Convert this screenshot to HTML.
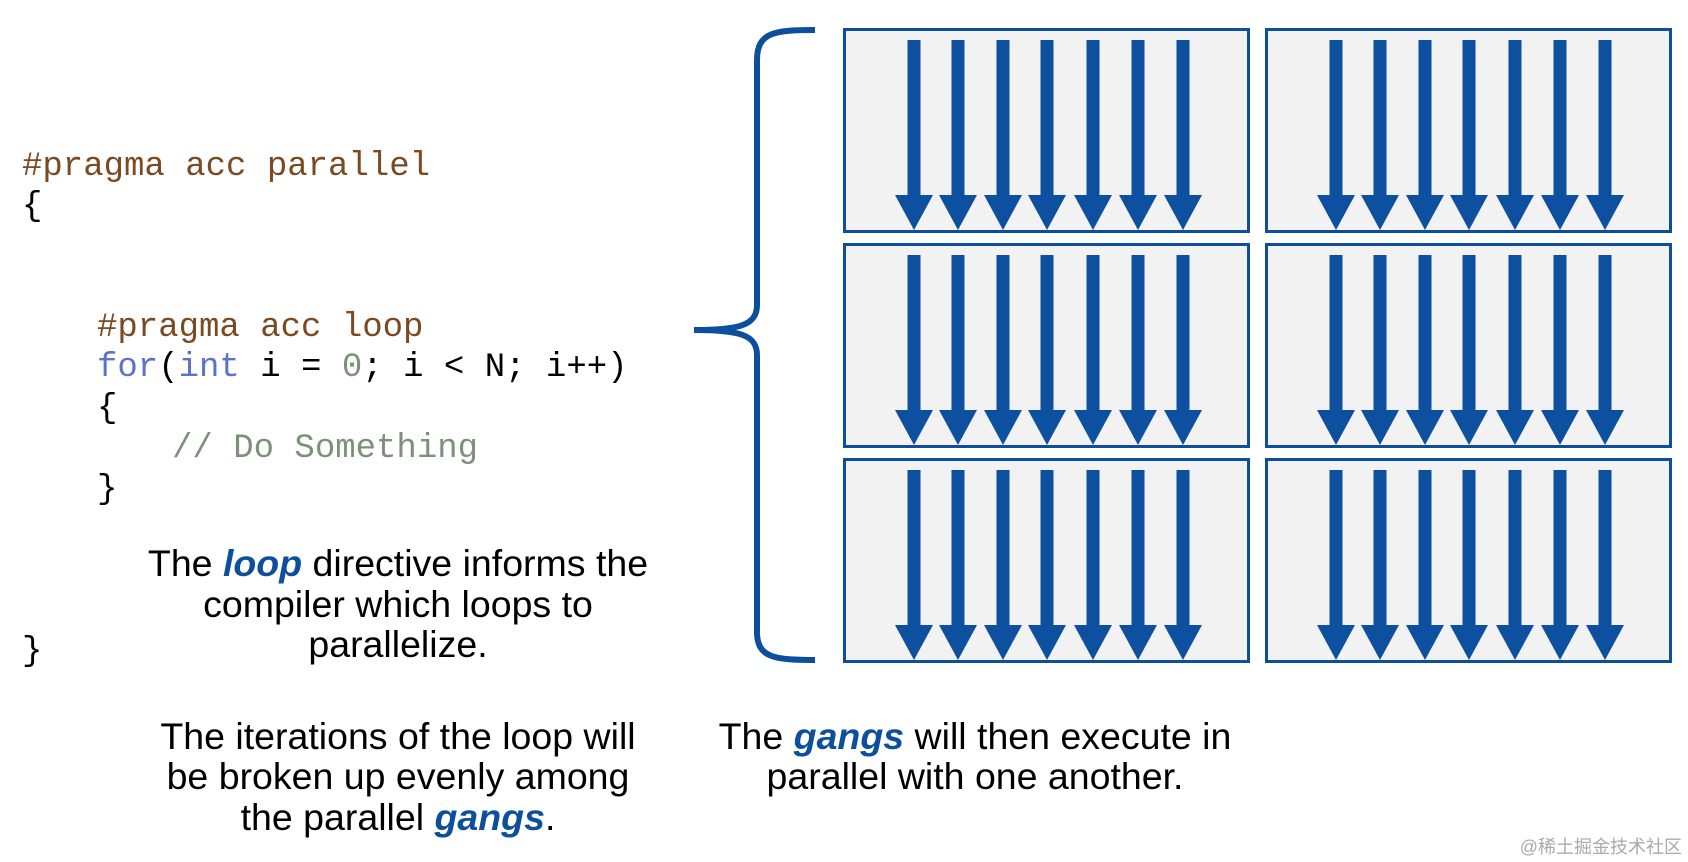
<!DOCTYPE html>
<html><head><meta charset="utf-8"><style>
html,body{margin:0;padding:0;background:#fff;}
svg{display:block}
</style></head><body>
<svg width="1688" height="862" viewBox="0 0 1688 862" xmlns="http://www.w3.org/2000/svg">
<defs>
<g id="cell">
<rect x="1.5" y="1.5" width="404" height="202" fill="#f2f2f2" stroke="#0d4f9c" stroke-width="3"/>
<g fill="#0d50a0">
<rect x="64.5" y="12" width="13" height="160"/><polygon points="52,167 90,167 71,202"/>
<rect x="108.5" y="12" width="13" height="160"/><polygon points="96,167 134,167 115,202"/>
<rect x="153.5" y="12" width="13" height="160"/><polygon points="141,167 179,167 160,202"/>
<rect x="197.5" y="12" width="13" height="160"/><polygon points="185,167 223,167 204,202"/>
<rect x="243.5" y="12" width="13" height="160"/><polygon points="231,167 269,167 250,202"/>
<rect x="288.5" y="12" width="13" height="160"/><polygon points="276,167 314,167 295,202"/>
<rect x="333.5" y="12" width="13" height="160"/><polygon points="321,167 359,167 340,202"/>
</g>
</g>
</defs>
<use href="#cell" x="843" y="28"/>
<use href="#cell" x="1265" y="28"/>
<use href="#cell" x="843" y="243"/>
<use href="#cell" x="1265" y="243"/>
<use href="#cell" x="843" y="458"/>
<use href="#cell" x="1265" y="458"/>

<path d="M815 30 C775 30 757 32 757 60 L757 305 C757 325 740 330 694 330 C740 330 757 335 757 355 L757 632 C757 658 775 660 815 660" fill="none" stroke="#0d4f9c" stroke-width="6"/>

<g font-family="'Liberation Mono', monospace" font-size="34">
<text x="22" y="175" fill="#7a4a22">#pragma acc parallel</text>
<text x="22" y="215" fill="#000">{</text>
<text x="97" y="336" fill="#7a4a22">#pragma acc loop</text>
<text x="97" y="376"><tspan fill="#5b73c8">for</tspan><tspan fill="#000">(</tspan><tspan fill="#5b73c8">int</tspan><tspan fill="#000"> i = </tspan><tspan fill="#7d917a">0</tspan><tspan fill="#000">; i &lt; N; i++)</tspan></text>
<text x="97" y="417" fill="#000">{</text>
<text x="172" y="457" fill="#7d917a">// Do Something</text>
<text x="97" y="498" fill="#000">}</text>
<text x="22" y="660" fill="#000">}</text>
</g>

<g font-family="'Liberation Sans', Arial, sans-serif" font-size="37.5" fill="#000" text-anchor="middle">
<text x="398" y="576">The <tspan fill="#0d4f9c" font-weight="bold" font-style="italic">loop</tspan> directive informs the</text>
<text x="398" y="617">compiler which loops to</text>
<text x="398" y="657">parallelize.</text>
<text x="398" y="749">The iterations of the loop will</text>
<text x="398" y="789">be broken up evenly among</text>
<text x="398" y="830">the parallel <tspan fill="#0d4f9c" font-weight="bold" font-style="italic">gangs</tspan>.</text>
<text x="975" y="749">The <tspan fill="#0d4f9c" font-weight="bold" font-style="italic">gangs</tspan> will then execute in</text>
<text x="975" y="789">parallel with one another.</text>
</g>
<text x="1682" y="853" text-anchor="end" font-family="'Liberation Sans','Noto Sans CJK SC',sans-serif" font-size="18" fill="#aaa">@稀土掘金技术社区</text>
</svg>
</body></html>
